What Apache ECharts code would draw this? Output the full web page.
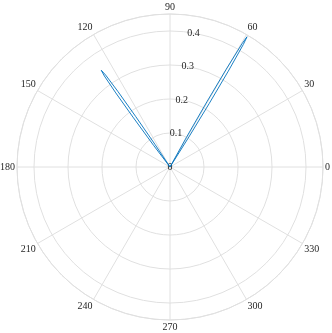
<!DOCTYPE html>
<html><head><meta charset="utf-8">
<script src="https://cdn.jsdelivr.net/npm/echarts@6/dist/echarts.min.js"></script>
<style>html,body{margin:0;padding:0;background:#fff}#c{width:332px;height:333px}</style>
</head><body><div id="c"></div>
<script>
// Data: angle (deg) and radius for each sample
const angles = [0, 57.0, 57.8, 58.3, 58.7, 59.1, 59.4, 59.7, 60.1, 60.5, 61.0, 61.8,
                122.8, 123.6, 124.2, 124.6, 125.0, 125.4, 125.8, 126.2, 126.6, 127.2, 128.0, 360];
const radii  = [0, 0, 0.10, 0.22, 0.33, 0.42, 0.445, 0.42, 0.33, 0.22, 0.10, 0,
                0, 0.08, 0.18, 0.27, 0.33, 0.349, 0.33, 0.27, 0.18, 0.08, 0, 0];
const radialTicks = [0, 0.1, 0.2, 0.3, 0.4];
const angleTickStep = 30;
const rMax = 0.45;

const font = 'Liberation Serif';
const grid = '#e0e0e0';
const txt = '#262626';
const chart = echarts.init(document.getElementById('c'), null, {renderer:'canvas'});
const data = radii.map((r,i)=>[r, angles[i]]);
const fmtR = v => { const s = +(+v).toFixed(2); return radialTicks.indexOf(s) >= 0 ? String(s) : ''; };
chart.setOption({
  animation:false,
  polar:[{center:[170,167], radius:153},{center:[170,167], radius:153}],
  angleAxis:[{
    polarIndex:0, type:'value', min:0, max:360, interval:angleTickStep, startAngle:0, clockwise:false,
    axisLine:{show:true, lineStyle:{color:grid, width:1}},
    axisTick:{show:false},
    splitLine:{show:true, lineStyle:{color:grid, width:1}},
    axisLabel:{margin:2, fontFamily:font, fontSize:10, color:txt, formatter:v=> v>=360?'':String(v)}
  },{
    polarIndex:1, type:'value', min:0, max:360, startAngle:80, clockwise:false, show:false
  }],
  radiusAxis:[{
    polarIndex:0, type:'value', min:0, max:rMax, interval:0.1,
    axisLine:{show:false}, axisTick:{show:false}, axisLabel:{show:false},
    splitLine:{show:true, lineStyle:{color:grid, width:1}}
  },{
    polarIndex:1, type:'value', min:0, max:rMax, interval:0.1,
    axisLine:{show:false}, axisTick:{show:false}, splitLine:{show:false},
    axisLabel:{margin:0, align:'center', verticalAlign:'middle', fontFamily:font, fontSize:10, color:txt, formatter:fmtR}
  }],
  series:[{
    type:'line', coordinateSystem:'polar', polarIndex:0, data:data,
    showSymbol:false, symbol:'none', lineStyle:{color:'#0072BD', width:0.9}, z:5
  }]
});
</script></body></html>
